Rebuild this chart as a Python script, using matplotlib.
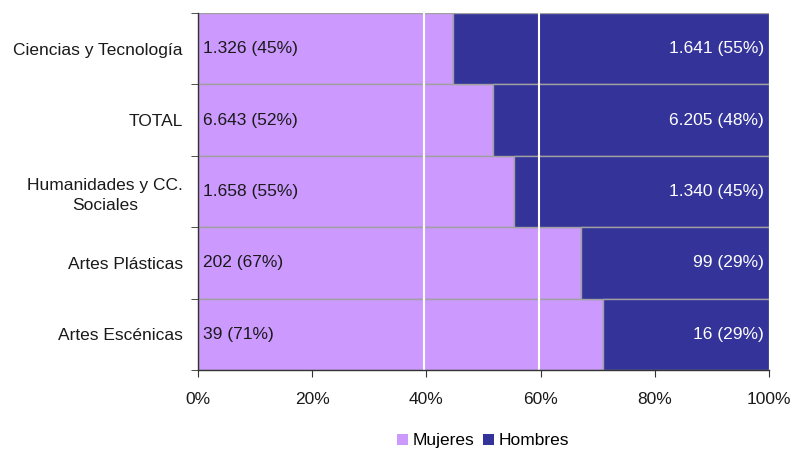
import matplotlib
matplotlib.use("Agg")
import matplotlib.pyplot as plt
import numpy as np

plt.rcParams['font.family'] = ['Liberation Sans', 'DejaVu Sans']

categories = ["Ciencias y Tecnología", "TOTAL", "Humanidades y CC.\nSociales",
              "Artes Plásticas", "Artes Escénicas"]
mujeres = [1326, 6643, 1658, 202, 39]
hombres = [1641, 6205, 1340, 99, 16]
mujeres_labels = ["1.326 (45%)", "6.643 (52%)", "1.658 (55%)", "202 (67%)", "39 (71%)"]
hombres_labels = ["1.641 (55%)", "6.205 (48%)", "1.340 (45%)", "99 (29%)", "16 (29%)"]
xticks = [0, 0.2, 0.4, 0.6, 0.8, 1.0]
xtick_labels = ["0%", "20%", "40%", "60%", "80%", "100%"]

c_muj = "#CC99FF"
c_hom = "#333399"
FS = 12.5

fig = plt.figure(figsize=(7.91, 4.5), dpi=100)
ax = fig.add_axes([198/791, 1 - 370/450, (769-198)/791, (370-13)/450])

muj = np.array(mujeres, float)
hom = np.array(hombres, float)
tot = muj + hom
fm = muj / tot
fh = hom / tot

n = len(categories)
y = np.arange(n)[::-1]

ax.barh(y, fm, height=1.0, color=c_muj, edgecolor="#a0a0a0", linewidth=1, label="Mujeres", zorder=2)
ax.barh(y, fh, left=fm, height=1.0, color=c_hom, edgecolor="#a0a0a0", linewidth=1, label="Hombres", zorder=2)

for xv in (0.395, 0.598):
    ax.axvline(xv, color="white", linewidth=1.5, zorder=3)

for yi, lm, lh in zip(y, mujeres_labels, hombres_labels):
    ax.text(0.008, yi, lm, ha="left", va="center", fontsize=FS, color="#1a1a1a", zorder=4)
    ax.text(0.991, yi, lh, ha="right", va="center", fontsize=FS, color="white", zorder=4)

ax.set_xlim(0, 1)
ax.set_ylim(-0.5, n - 0.5)
ax.set_xticks(xticks)
ax.set_xticklabels(xtick_labels, fontsize=FS)
ax.set_yticks(y)
ax.set_yticklabels(categories, fontsize=FS, color="#1a1a1a", multialignment="center",
                   linespacing=1.4)
ax.set_yticks(np.arange(-0.5, n, 1.0), minor=True)
ax.tick_params(axis="y", which="major", length=0, pad=11)
ax.tick_params(axis="y", which="minor", length=5, color="#333333")
ax.tick_params(axis="x", length=5, pad=11, color="#333333", labelcolor="#1a1a1a")

for s in ("top", "right"):
    ax.spines[s].set_visible(False)
for s in ("left", "bottom"):
    ax.spines[s].set_color("#333333")
    ax.spines[s].set_linewidth(1)
    ax.spines[s].set_zorder(5)

leg = ax.legend(loc="center", bbox_to_anchor=(0.5, 1 - (441 - 13) / 357), ncol=2,
                frameon=False, fontsize=FS, handlelength=0.6, handleheight=0.6,
                handletextpad=0.3, columnspacing=0.5, borderaxespad=0)
for h in leg.legend_handles:
    h.set_edgecolor("none")

fig.savefig("out.png", dpi=100)
